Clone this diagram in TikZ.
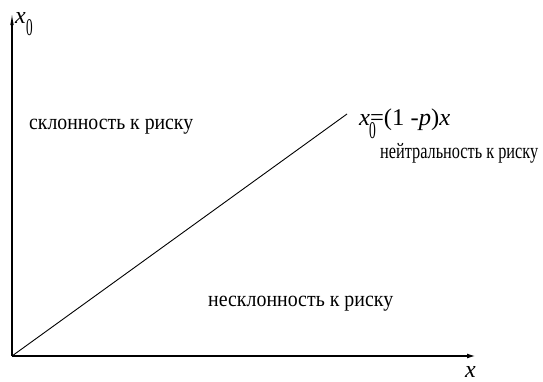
\documentclass[tikz,border=0pt]{standalone}
\usepackage{fontspec}
\setmainfont{Liberation Serif}
\usetikzlibrary{arrows.meta}
\newcommand{\fitw}[2]{\resizebox{#1pt}{\height}{#2}}
\begin{document}
\begin{tikzpicture}[x=1pt,y=-1pt,
  haxis/.style={line width=1.1pt,-{Latex[length=8pt,width=5pt]}},
  vaxis/.style={line width=1.1pt,-{Latex[length=12pt,width=3.5pt]}},
  lbl/.style={font=\fontsize{22}{26}\selectfont, inner sep=0pt, anchor=base west},
  mth/.style={font=\fontsize{24}{28}\selectfont, inner sep=0pt, anchor=base west}]
\useasboundingbox[fill=white] (0,0) rectangle (543,381);
\coordinate (O) at (12,356);
\coordinate (Y) at (12,13);
\coordinate (X) at (475,356);
\coordinate (E) at (347,114);
\draw[haxis] (O) -- (X);
\draw[vaxis] (O) -- (Y);
\draw[line width=0.9pt] (O) -- (E);
\node[mth] (ylab) at (15,23) {\textit{x}};
\node[mth] (ylab0) at (26,35) {\scalebox{0.55}[1]{0}};
\node[mth] (xlab) at (465,377) {\textit{x}};
\node[mth] (f) at (359,125) {\fitw{91}{\textit{x}\rlap{\raisebox{-13pt}{\kern-1pt\scalebox{0.55}[1]{0}}}=(1 -\textit{p})\textit{x}}};
\node[lbl] (a) at (29,129) {\fitw{164}{склонность к риску}};
\node[lbl] (b) at (380,158) {\fitw{158}{нейтральность к риску}};
\node[lbl] (c) at (208,306) {\fitw{185}{несклонность к риску}};
\end{tikzpicture}
\end{document}
